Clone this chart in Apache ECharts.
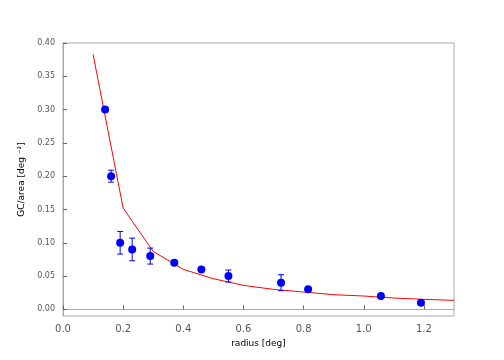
<!DOCTYPE html>
<html>
<head>
<meta charset="utf-8">
<script src="https://cdn.jsdelivr.net/npm/echarts@6/dist/echarts.min.js"></script>
<style>
  html, body { margin: 0; padding: 0; background: #fff; }
  #main { width: 504px; height: 360px; }
</style>
</head>
<body>
<div id="main"></div>
<script>
// measured points (radius, density, error)
var radius = [0.14, 0.16, 0.19, 0.23, 0.29, 0.37, 0.46, 0.55, 0.725, 0.815, 1.057, 1.19]
var density = [0.30, 0.20, 0.10, 0.09, 0.08, 0.07, 0.06, 0.05, 0.04, 0.03, 0.02, 0.01]
var errors = [0.003, 0.009, 0.017, 0.017, 0.012, 0.003, 0.002, 0.009, 0.012, 0.002, 0.002, 0.002]

// model curve
var modelR = [0.1, 0.2, 0.3, 0.4, 0.5, 0.6, 0.7, 0.8, 0.9, 1.0, 1.1, 1.2, 1.3]
var modelY = [0.383, 0.152, 0.087, 0.060, 0.046, 0.036, 0.030, 0.026, 0.022, 0.020, 0.017, 0.015, 0.0135]

var xTicks = [0, 0.2, 0.4, 0.6, 0.8, 1.0, 1.2]
var yTicks = [0, 0.05, 0.1, 0.15, 0.2, 0.25, 0.3, 0.35, 0.4]

var points = radius.map(function (r, i) { return [r, density[i]] })
var bars = radius.map(function (r, i) { return [r, density[i] - errors[i], density[i] + errors[i]] })
var model = modelR.map(function (r, i) { return [r, modelY[i]] })

var chart = echarts.init(document.getElementById('main'))

var option = {
  animation: false,
  grid: {
    left: 63, right: 50, top: 43, bottom: 44,
    show: true, borderColor: '#aaa', borderWidth: 1
  },
  xAxis: {
    type: 'value',
    min: 0, max: 1.3,
    name: 'radius [deg]',
    nameLocation: 'middle',
    nameGap: 23,
    nameTextStyle: { fontFamily: 'DejaVu Sans', fontSize: 9, color: '#000' },
    axisLine: { lineStyle: { color: '#aaa' } },
    axisTick: { inside: true, length: 4, lineStyle: { color: '#666' }, customValues: xTicks },
    axisLabel: {
      fontFamily: 'DejaVu Sans', fontSize: 10, color: '#555', margin: 8,
      customValues: xTicks,
      formatter: function (v) { return v.toFixed(1) }
    },
    splitLine: { show: false }
  },
  yAxis: {
    type: 'value',
    min: -0.01, max: 0.4,
    name: 'GC/area [deg \u207b\u00b2]',
    nameLocation: 'middle',
    nameGap: 32,
    nameTextStyle: { fontFamily: 'DejaVu Sans', fontSize: 9, color: '#000' },
    axisLine: { show: true, lineStyle: { color: '#aaa' } },
    axisTick: { show: true, inside: true, length: 4, lineStyle: { color: '#666' }, customValues: yTicks },
    axisLabel: {
      fontFamily: 'DejaVu Sans', fontSize: 8, color: '#555', margin: 8,
      customValues: yTicks,
      formatter: function (v) { return v.toFixed(2) }
    },
    splitLine: { show: false }
  },
  series: [
    {
      type: 'line',
      data: model,
      symbol: 'none',
      lineStyle: { color: '#ff0000', width: 1 },
      z: 2
    },
    {
      type: 'custom',
      data: bars,
      z: 3,
      renderItem: function (params, api) {
        var x = api.value(0)
        var lo = api.coord([x, api.value(1)])
        var hi = api.coord([x, api.value(2)])
        var cap = 3
        var style = { stroke: '#0000ff', lineWidth: 1 }
        return {
          type: 'group',
          children: [
            { type: 'line', shape: { x1: lo[0], y1: lo[1], x2: hi[0], y2: hi[1] }, style: style },
            { type: 'line', shape: { x1: lo[0] - cap, y1: lo[1], x2: lo[0] + cap, y2: lo[1] }, style: style },
            { type: 'line', shape: { x1: hi[0] - cap, y1: hi[1], x2: hi[0] + cap, y2: hi[1] }, style: style }
          ]
        }
      }
    },
    {
      type: 'scatter',
      data: points,
      symbol: 'circle',
      symbolSize: 8,
      itemStyle: { color: '#0000ff', opacity: 1 },
      z: 4
    }
  ]
}

chart.setOption(option)
</script>
</body>
</html>
